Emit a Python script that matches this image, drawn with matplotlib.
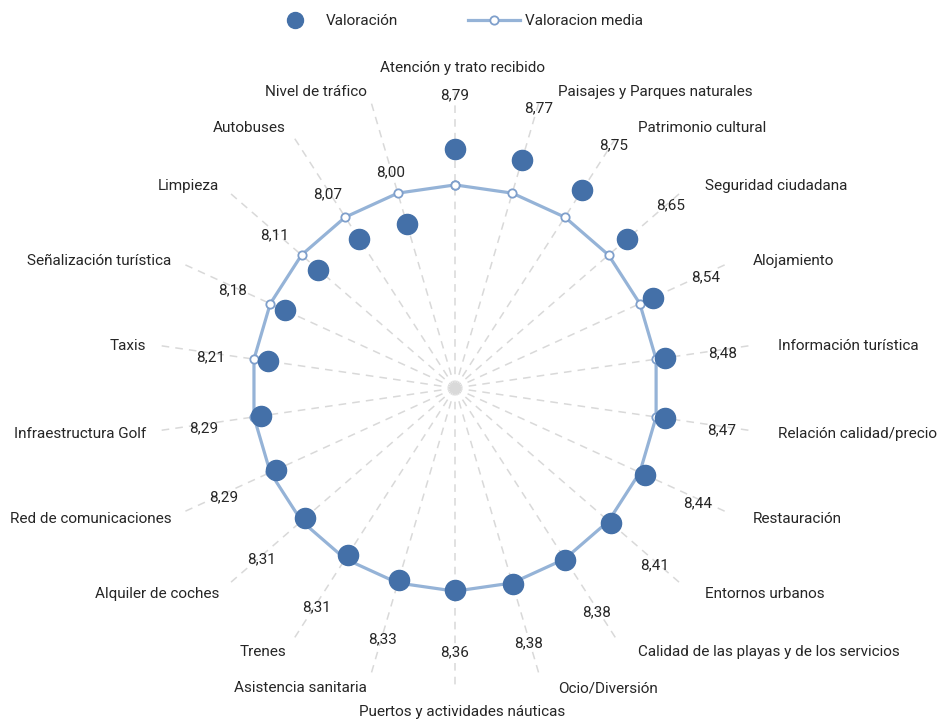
import numpy as np
import matplotlib
matplotlib.use("Agg")
import matplotlib.pyplot as plt
from matplotlib.lines import Line2D
from matplotlib.transforms import offset_copy

plt.rcParams['font.family'] = ['Roboto', 'DejaVu Sans']

categories = ["Atención y trato recibido", "Paisajes y Parques naturales", "Patrimonio cultural",
              "Seguridad ciudadana", "Alojamiento", "Información turística",
              "Relación calidad/precio", "Restauración", "Entornos urbanos",
              "Calidad de las playas y de los servicios", "Ocio/Diversión",
              "Puertos y actividades náuticas", "Asistencia sanitaria", "Trenes",
              "Alquiler de coches", "Red de comunicaciones", "Infraestructura Golf",
              "Taxis", "Señalización turística", "Limpieza", "Autobuses", "Nivel de tráfico"]
valoracion = [8.79, 8.77, 8.75, 8.65, 8.54, 8.48, 8.47, 8.44, 8.41, 8.38, 8.38,
              8.36, 8.33, 8.31, 8.31, 8.29, 8.29, 8.21, 8.18, 8.11, 8.07, 8.00]
media_value = 8.37
valoracion_media = [media_value] * len(categories)
value_labels = ["8,79", "8,77", "8,75", "8,65", "8,54", "8,48", "8,47", "8,44", "8,41", "8,38", "8,38",
                "8,36", "8,33", "8,31", "8,31", "8,29", "8,29", "8,21", "8,18", "8,11", "8,07", "8,00"]

rmin, rmax = 6.0, 9.5
R_PX = 300.0
px = (rmax - rmin) / R_PX  # data units per pixel

fig = plt.figure(figsize=(9.39, 7.2), dpi=100)
ax = fig.add_axes([0.1651, 0.0444, 0.639, 0.8333], projection='polar')
ax.set_theta_offset(np.pi / 2)
ax.set_theta_direction(-1)
ax.set_ylim(rmin, rmax)
ax.grid(False)
ax.spines['polar'].set_visible(False)
ax.set_xticks([])
ax.set_yticks([])
ax.patch.set_alpha(0)

n = len(categories)
theta = np.arange(n) * 2 * np.pi / n

# spokes
for t in theta:
    ax.plot([t, t], [rmin, rmax], color='#d9d9d9', lw=1.1, ls=(0, (5, 4)), zorder=1)
ax.plot([0], [rmin], 'o', color='#d9d9d9', ms=7, zorder=1)

# media line
tc = np.append(theta, theta[0])
mc = np.append(valoracion_media, valoracion_media[0])
ax.plot(tc, mc, color='#95b3d7', lw=2.3, marker='o', ms=6, mfc='white',
        mec='#7f9fcb', mew=1.3, zorder=3)

# dots
ax.plot(theta, valoracion, 'o', color='#4470a8', ms=14.5, ls='none', zorder=4)

txt_color = '#262626'
for t, v, lab in zip(theta, valoracion, value_labels):
    tr = offset_copy(ax.transData, fig=fig, x=0, y=-4, units='dots')
    ax.text(t, v + 58 * px, lab, ha='center', va='center', fontsize=11,
            color=txt_color, zorder=5, transform=tr)

for i, (t, cat) in enumerate(zip(theta, categories)):
    s, c = np.sin(t), np.cos(t)
    if abs(s) < 1e-6:
        ha = 'center'
        dx = 7
        dy = 322 * np.sign(c) - 2
    else:
        ha = 'left' if s > 0 else 'right'
        dx = 7 + np.sign(s) * (311 * abs(s) + 8)
        dy = 311 * c - 2
    tr = offset_copy(ax.transData, fig=fig, x=dx, y=dy, units='dots')
    ax.text(0, rmin, cat, ha=ha, va='center', fontsize=11, color=txt_color,
            clip_on=False, zorder=5, transform=tr)

handles = [
    Line2D([], [], marker='o', color='#4470a8', ls='none', ms=11.5),
    Line2D([], [], color='#95b3d7', lw=2.3, marker='o', ms=6, mfc='white',
           mec='#7f9fcb', mew=1.3),
]
fig.legend(handles, ["Valoración", "Valoracion media"], loc='center',
           bbox_to_anchor=(0.4855, 0.971), ncol=2, frameon=False, fontsize=11,
           handlelength=3.4, columnspacing=4.6, handletextpad=0.3,
           labelcolor=txt_color)

fig.savefig('out.png', dpi=100, facecolor='white')
